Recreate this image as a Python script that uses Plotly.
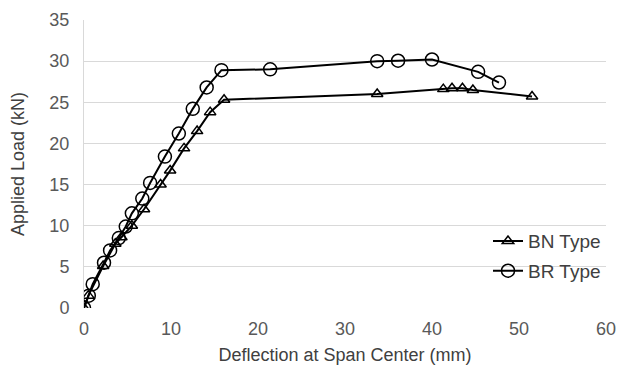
import plotly.graph_objects as go

bn_x = [0, 0.5, 2.2, 3.6, 4.3, 5.5, 6.9, 8.8, 9.9, 11.5, 13.0, 14.5, 16.1, 33.7, 41.3, 42.3, 43.5, 44.7, 51.5]
bn_y = [0, 1.5, 5.1, 7.8, 8.6, 10.0, 12.0, 15.0, 16.7, 19.4, 21.5, 23.8, 25.3, 26.0, 26.6, 26.7, 26.7, 26.5, 25.7]

br_x = [0, 0.55, 1.0, 2.3, 3.0, 4.0, 4.8, 5.5, 6.7, 7.6, 9.3, 10.9, 12.5, 14.1, 15.8, 21.4, 33.7, 36.1, 40.0, 45.3, 47.7]
br_y = [0, 1.5, 2.9, 5.5, 7.0, 8.5, 9.9, 11.5, 13.3, 15.2, 18.4, 21.2, 24.2, 26.8, 28.9, 29.0, 30.0, 30.05, 30.2, 28.7, 27.4]

x_ticks = [0, 10, 20, 30, 40, 50, 60]
y_ticks = [0, 5, 10, 15, 20, 25, 30, 35]

font = "Liberation Sans, Arial, sans-serif"
fig = go.Figure()
fig.add_trace(go.Scatter(x=bn_x, y=bn_y, mode="lines+markers", name="BN Type", legendgroup="bn",
                         line=dict(color="black", width=2),
                         marker=dict(symbol="triangle-up-open", size=10, color="black", line=dict(width=1.5))))
fig.add_trace(go.Scatter(x=br_x, y=br_y, mode="lines+markers", name="BR Type", legendgroup="br",
                         line=dict(color="black", width=2),
                         marker=dict(symbol="circle-open", size=13, color="black", line=dict(width=1.5))))

# page body has an 8px margin; figure is sized/offset to compensate
fig.update_layout(
    width=617, height=364,
    margin=dict(l=76, r=19, t=12, b=64),
    paper_bgcolor="white", plot_bgcolor="white",
    font=dict(family=font, size=18, color="#595959"),
    legend=dict(x=1.0, y=0.18, xanchor="right", yanchor="middle",
                bgcolor="rgba(0,0,0,0)", font=dict(size=19, color="#404040"),
                tracegroupgap=2, itemwidth=30),
    xaxis=dict(range=[0, 60], tickvals=x_ticks, showgrid=False, zeroline=False, automargin=False,
               showline=False, ticks="", ticklabelstandoff=8,
               title=dict(text="Deflection at Span Center (mm)", standoff=10,
               font=dict(size=18, color="#404040"))),
    yaxis=dict(range=[0, 35], tickvals=y_ticks, showgrid=True, gridcolor="#d9d9d9", gridwidth=1,
               zeroline=False, showline=True, linecolor="#d9d9d9", linewidth=1,
               ticks="", automargin=False, ticklabelstandoff=10,
               title=dict(text="Applied Load (kN)", standoff=22, font=dict(size=18, color="#404040"))),
)
fig.write_html("out.html")
